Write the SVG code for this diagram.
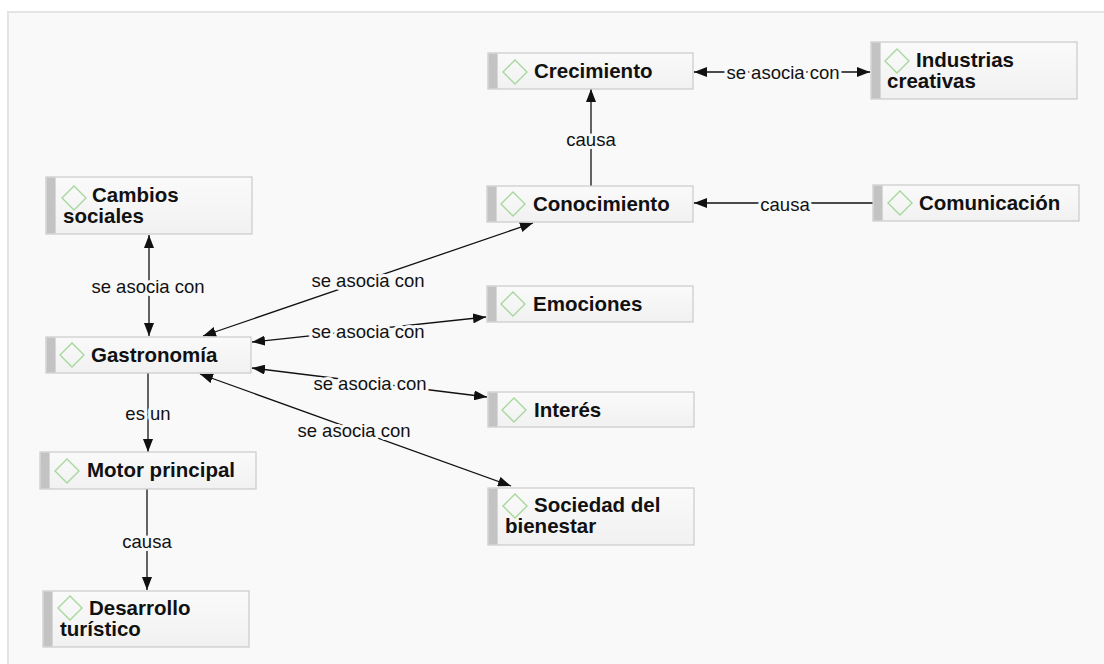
<svg xmlns="http://www.w3.org/2000/svg" width="1104" height="664" viewBox="0 0 1104 664">
<style>
.frame{fill:#f9f9f9;stroke:#e4e4e4;stroke-width:2}
.box{fill:url(#nodeGrad);stroke:#cacaca;stroke-width:1.2}
.strip{fill:#c3c3c3}
.dia{fill:none;stroke:#a6d89c;stroke-width:1.4}
.nt{font-family:"Liberation Sans",Arial,Helvetica,sans-serif;font-weight:bold;font-size:20.5px;fill:#111}
.edge{fill:none;stroke:#111;stroke-width:1.3}
.lbl{font-family:"Liberation Sans",Arial,Helvetica,sans-serif;font-size:18.5px;fill:#111;text-anchor:middle;dominant-baseline:central;stroke:#f9f9f9;stroke-width:6;paint-order:stroke;stroke-linejoin:round}
</style>
<defs>
<linearGradient id="nodeGrad" x1="0" y1="0" x2="0" y2="1">
<stop offset="0" stop-color="#fafafa"/>
<stop offset="1" stop-color="#f1f1f1"/>
</linearGradient>
<marker id="ah" markerUnits="userSpaceOnUse" markerWidth="13" markerHeight="10" refX="13" refY="5" orient="auto-start-reverse" viewBox="0 0 13 10">
<path d="M0,0 L13,5 L0,10 z" fill="#111"/>
</marker>
</defs>
<rect class="frame" x="8" y="12" width="1104" height="660"/>

<g id="connectors">
<path class="edge" d="M591,186 L591,89" marker-end="url(#ah)"/>
<path class="edge" d="M694,72 L870,72" marker-start="url(#ah)" marker-end="url(#ah)"/>
<path class="edge" d="M873,203 L694,203" marker-end="url(#ah)"/>
<path class="edge" d="M149,235 L149,336" marker-start="url(#ah)" marker-end="url(#ah)"/>
<path class="edge" d="M203,336 L533,223" marker-start="url(#ah)" marker-end="url(#ah)"/>
<path class="edge" d="M252,342 L486,317" marker-start="url(#ah)" marker-end="url(#ah)"/>
<path class="edge" d="M252,368 L487,397" marker-start="url(#ah)" marker-end="url(#ah)"/>
<path class="edge" d="M200,374 L511,486" marker-start="url(#ah)" marker-end="url(#ah)"/>
<path class="edge" d="M148,373 L148,452" marker-end="url(#ah)"/>
<path class="edge" d="M147,489 L147,590" marker-end="url(#ah)"/>
<text class="lbl" x="591" y="139">causa</text>
<text class="lbl" x="783" y="72">se asocia con</text>
<text class="lbl" x="785" y="204">causa</text>
<text class="lbl" x="148" y="286">se asocia con</text>
<text class="lbl" x="368" y="280">se asocia con</text>
<text class="lbl" x="368" y="331">se asocia con</text>
<text class="lbl" x="370" y="383">se asocia con</text>
<text class="lbl" x="354" y="430">se asocia con</text>
<text class="lbl" x="148" y="413">es un</text>
<text class="lbl" x="147" y="541">causa</text>
</g>

<g id="crecimiento">
<rect class="box" x="488" y="53" width="205" height="36"/>
<rect class="strip" x="488.6" y="53.6" width="9" height="34.8"/>
<path class="dia" d="M515,60 L527,72 L515,84 L503,72 z"/>
<text class="nt" x="534" y="78">Crecimiento</text>
</g>

<g id="industrias">
<rect class="box" x="871" y="42" width="206" height="57"/>
<rect class="strip" x="871.6" y="42.6" width="9" height="55.8"/>
<path class="dia" d="M897,49 L909,61 L897,73 L885,61 z"/>
<text class="nt" x="916" y="67">Industrias</text>
<text class="nt" x="887" y="88">creativas</text>
</g>

<g id="conocimiento">
<rect class="box" x="487" y="186" width="206" height="36"/>
<rect class="strip" x="487.6" y="186.6" width="9" height="34.8"/>
<path class="dia" d="M513,192 L525,204 L513,216 L501,204 z"/>
<text class="nt" x="533" y="211">Conocimiento</text>
</g>

<g id="comunicacion">
<rect class="box" x="873" y="185" width="206" height="36"/>
<rect class="strip" x="873.6" y="185.6" width="9" height="34.8"/>
<path class="dia" d="M900,191 L912,203 L900,215 L888,203 z"/>
<text class="nt" x="919" y="210">Comunicación</text>
</g>

<g id="cambios">
<rect class="box" x="46" y="177" width="206" height="57"/>
<rect class="strip" x="46.6" y="177.6" width="9" height="55.8"/>
<path class="dia" d="M74,186 L86,198 L74,210 L62,198 z"/>
<text class="nt" x="92" y="202">Cambios</text>
<text class="nt" x="63" y="223">sociales</text>
</g>

<g id="emociones">
<rect class="box" x="487" y="286" width="206" height="36"/>
<rect class="strip" x="487.6" y="286.6" width="9" height="34.8"/>
<path class="dia" d="M513,292 L525,304 L513,316 L501,304 z"/>
<text class="nt" x="533" y="311">Emociones</text>
</g>

<g id="gastronomia">
<rect class="box" x="46" y="337" width="205" height="36"/>
<rect class="strip" x="46.6" y="337.6" width="9" height="34.8"/>
<path class="dia" d="M72,343 L84,355 L72,367 L60,355 z"/>
<text class="nt" x="91" y="362">Gastronomía</text>
</g>

<g id="interes">
<rect class="box" x="488" y="392" width="206" height="35"/>
<rect class="strip" x="488.6" y="392.6" width="9" height="33.8"/>
<path class="dia" d="M514,398 L526,410 L514,422 L502,410 z"/>
<text class="nt" x="534" y="417">Interés</text>
</g>

<g id="motor">
<rect class="box" x="40" y="452" width="216" height="37"/>
<rect class="strip" x="40.6" y="452.6" width="9" height="35.8"/>
<path class="dia" d="M67,459 L79,471 L67,483 L55,471 z"/>
<text class="nt" x="87" y="477">Motor principal</text>
</g>

<g id="sociedad">
<rect class="box" x="488" y="488" width="206" height="57"/>
<rect class="strip" x="488.6" y="488.6" width="9" height="55.8"/>
<path class="dia" d="M515,494 L527,506 L515,518 L503,506 z"/>
<text class="nt" x="534" y="512">Sociedad del</text>
<text class="nt" x="505" y="533">bienestar</text>
</g>

<g id="desarrollo">
<rect class="box" x="43" y="591" width="206" height="56"/>
<rect class="strip" x="43.6" y="591.6" width="9" height="54.8"/>
<path class="dia" d="M70,596 L82,608 L70,620 L58,608 z"/>
<text class="nt" x="89" y="615">Desarrollo</text>
<text class="nt" x="60" y="636">turístico</text>
</g>
</svg>
